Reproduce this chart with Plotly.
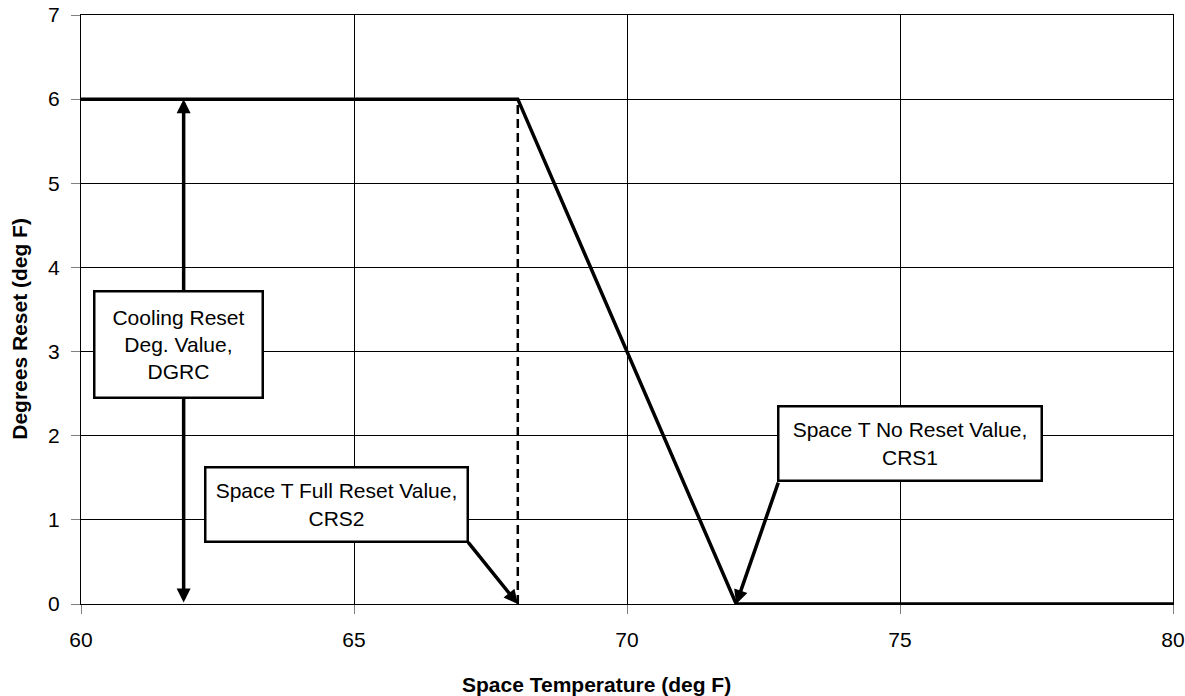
import plotly.graph_objects as go

# Reset schedule: space temperature (deg F) vs degrees reset (deg F)
temp = [60, 68, 72, 80]
reset = [6, 6, 0, 0]

crs2 = 68      # Space T full reset value
crs1 = 72      # Space T no reset value
dgrc = 6       # Cooling reset degree value
dgrc_x = 61.88 # where the DGRC span arrow is drawn

x_ticks = [60, 65, 70, 75, 80]
y_ticks = [0, 1, 2, 3, 4, 5, 6, 7]

FONT = "Liberation Sans, Arial, sans-serif"

fig = go.Figure()

fig.add_trace(go.Scatter(
    x=[crs2, crs2], y=[0, dgrc], mode="lines",
    line=dict(color="black", width=2.5, dash="9px,5px"),
    hoverinfo="skip", showlegend=False,
))
fig.add_trace(go.Scatter(
    x=temp, y=reset, mode="lines",
    line=dict(color="black", width=3.5),
    showlegend=False,
))

annotations = []

# DGRC double arrow
annotations.append(dict(
    x=dgrc_x, y=dgrc, ax=dgrc_x, ay=0, axref="x", ayref="y",
    text="", showarrow=True, arrowhead=2, arrowside="end+start",
    arrowsize=0.8, arrowwidth=3.5, arrowcolor="black", standoff=0, startstandoff=0,
))
# CRS2 arrow
annotations.append(dict(
    x=crs2, y=0, ax=67.07, ay=0.75, axref="x", ayref="y",
    text="", showarrow=True, arrowhead=2, arrowsize=0.8,
    arrowwidth=3.5, arrowcolor="black", standoff=0,
))
# CRS1 arrow
annotations.append(dict(
    x=crs1, y=0, ax=72.78, ay=1.46, axref="x", ayref="y",
    text="", showarrow=True, arrowhead=2, arrowsize=0.8,
    arrowwidth=3.5, arrowcolor="black", standoff=0,
))

box = dict(showarrow=False, bgcolor="white", bordercolor="black", borderwidth=2.5,
           borderpad=0, align="center", font=dict(family=FONT, size=21, color="black"),
           xref="x", yref="y")

annotations.append(dict(box, x=61.786, y=3.084, width=166, height=104,
                        text="Cooling Reset<br>Deg. Value,<br>DGRC"))
annotations.append(dict(box, x=64.68, y=1.18, width=260, height=72,
                        text="Space T Full Reset Value,<br>CRS2"))
annotations.append(dict(box, x=75.18, y=1.91, width=261, height=72,
                        text="Space T No Reset Value,<br>CRS1"))

# axis titles
annotations.append(dict(
    text="<b>Space Temperature (deg F)</b>", xref="paper", yref="paper",
    x=0.4725, y=-0.136, xanchor="center", yanchor="middle", showarrow=False,
    font=dict(family=FONT, size=21, color="black"),
))
annotations.append(dict(
    text="<b>Degrees Reset (deg F)</b>", xref="paper", yref="paper",
    x=-0.056, y=0.467, xanchor="center", yanchor="middle", textangle=-90,
    showarrow=False, font=dict(family=FONT, size=21, color="black"),
))

fig.update_layout(
    width=1185, height=696,
    margin=dict(l=81, r=12, t=15, b=92),
    plot_bgcolor="white", paper_bgcolor="white",
    font=dict(family=FONT, size=21, color="black"),
    annotations=annotations,
    showlegend=False,
)
fig.update_xaxes(
    range=[60, 80], tickvals=x_ticks, showgrid=True, gridcolor="black", gridwidth=1,
    showline=True, linecolor="black", linewidth=1, mirror=True,
    ticks="outside", ticklen=9, tickcolor="#808080", ticklabelstandoff=8,
    zeroline=False, fixedrange=True, automargin=False, ticklabeloverflow="allow",
)
fig.update_yaxes(
    range=[0, 7], tickvals=y_ticks, showgrid=True, gridcolor="black", gridwidth=1,
    showline=True, linecolor="black", linewidth=1, mirror=True,
    ticks="outside", ticklen=9, tickcolor="#808080", ticklabelstandoff=7,
    zeroline=False, fixedrange=True, automargin=False, ticklabeloverflow="allow",
)

# drop the default body margin so the figure sits at the page's top-left corner
fig.write_html("out.html", config={"displayModeBar": False},
               post_script="document.body.style.margin='0';")
